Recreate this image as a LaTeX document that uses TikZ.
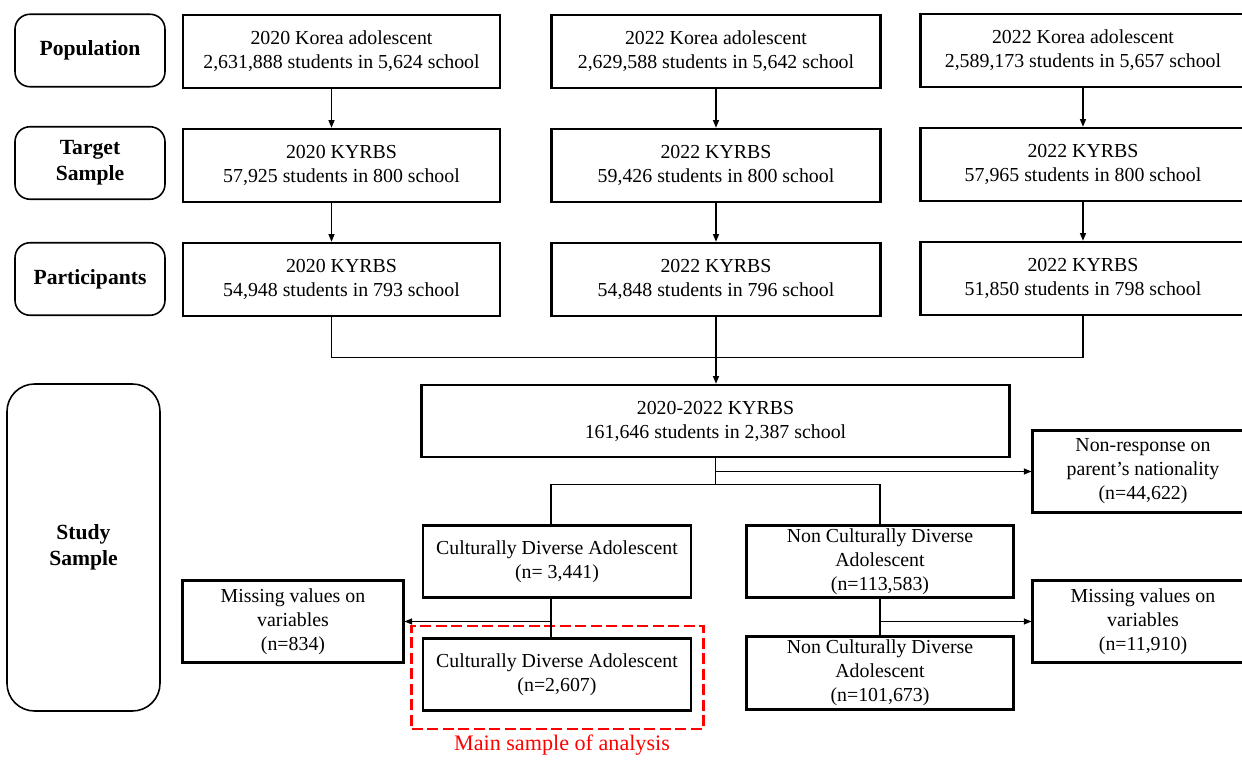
\documentclass[tikz,border=0pt]{standalone}
\usepackage{fontspec}
\setmainfont{Liberation Serif}
\usetikzlibrary{arrows.meta}

\begin{document}
\begin{tikzpicture}[>={Triangle[length=1.5mm,width=1.2mm]},node distance=2.28cm,
  line width=0.6pt,
  year node/.style={draw,line width=1.5pt,align=center,inner sep=1pt,
    minimum height=1.46cm,font=\fontsize{11.3}{13.7}\selectfont},
  flow node/.style={year node,minimum height=1.45cm},
  label node/.style={draw,line width=0.9pt,rounded corners=0.3cm,align=center,
    minimum width=3cm,minimum height=1.45cm,font=\fontsize{12.3}{15}\selectfont\bfseries},
  red box/.style={draw=red,line width=1.7pt,dash pattern=on 2.2mm off 0.9mm,
    minimum width=5.83cm,minimum height=2.06cm}]
  \useasboundingbox (0,0) rectangle (24.84,-15.22);
  \clip (0,0) rectangle (24.84,-15.22);
  % row labels
  \node[label node] (lpop) at (1.8,-1.01) {Population};
  \node[label node] (ltgt) at (1.8,-3.26) {Target\\Sample};
  \node[label node] (lpar) at (1.8,-5.58) {Participants};
  \node[label node,minimum width=3.06cm,minimum height=6.54cm,rounded corners=0.55cm]
    (lstudy) at (1.67,-10.95) {Study\\Sample};
  % survey years
  \node[year node,minimum width=6.34cm] (pop20) at (6.83,-1.03)
    {2020 Korea adolescent\\2,631,888 students in 5,624 school};
  \node[year node,minimum width=6.34cm] (tgt20) [below of=pop20]
    {2020 KYRBS\\57,925 students in 800 school};
  \node[year node,minimum width=6.34cm] (par20) [below of=tgt20]
    {2020 KYRBS\\54,948 students in 793 school};
  \node[year node,minimum width=6.57cm] (pop22a) at (14.32,-1.03)
    {2022 Korea adolescent\\2,629,588 students in 5,642 school};
  \node[year node,minimum width=6.57cm] (tgt22a) [below of=pop22a]
    {2022 KYRBS\\59,426 students in 800 school};
  \node[year node,minimum width=6.57cm] (par22a) [below of=tgt22a]
    {2022 KYRBS\\54,848 students in 796 school};
  \node[year node,minimum width=6.5cm] (pop22b) at (21.66,-1.01)
    {2022 Korea adolescent\\2,589,173 students in 5,657 school};
  \node[year node,minimum width=6.5cm] (tgt22b) [below of=pop22b]
    {2022 KYRBS\\57,965 students in 800 school};
  \node[year node,minimum width=6.5cm] (par22b) [below of=tgt22b]
    {2022 KYRBS\\51,850 students in 798 school};
  % study sample
  \node[flow node,minimum width=11.76cm,minimum height=1.44cm] (all) at (14.31,-8.42)
    {2020-2022 KYRBS\\161,646 students in 2,387 school};
  \node[flow node,minimum width=4.41cm,minimum height=1.65cm] (nr) at (22.86,-9.43)
    {Non-response on\\parent's nationality\\(n=44,622)};
  \node[flow node,minimum width=5.36cm] (cda) at (11.14,-11.23)
    {Culturally Diverse Adolescent\\(n= 3,441)};
  \node[flow node,minimum width=5.34cm] (ncda) at (17.6,-11.23)
    {Non Culturally Diverse\\Adolescent\\(n=113,583)};
  \node[red box] (mainbox) at (11.15,-13.55) {};
  \node[flow node,minimum width=5.36cm] (cda2) at (11.14,-13.49)
    {Culturally Diverse Adolescent\\(n=2,607)};
  \node[flow node,minimum width=5.34cm] (ncda2) at (17.6,-13.46)
    {Non Culturally Diverse\\Adolescent\\(n=101,673)};
  \node[flow node,minimum width=4.41cm,minimum height=1.64cm] (miss1) at (5.86,-12.43)
    {Missing values on\\variables\\(n=834)};
  \node[flow node,minimum width=4.41cm,minimum height=1.64cm] (miss2) at (22.86,-12.43)
    {Missing values on\\variables\\(n=11,910)};
  \node[text=red,font=\fontsize{12.6}{15}\selectfont] (mainlab) at (11.24,-14.9)
    {Main sample of analysis};
  % connectors
  \draw[->] ([xshift=-2mm]pop20.south) -- ([xshift=-2mm]tgt20.north);
  \draw[->] ([xshift=-2mm]tgt20.south) -- ([xshift=-2mm]par20.north);
  \draw[->] (pop22a.south) -- (tgt22a.north);
  \draw[->] (tgt22a.south) -- (par22a.north);
  \draw[->] (pop22b.south) -- (tgt22b.north);
  \draw[->] (tgt22b.south) -- (par22b.north);
  \draw ([xshift=-2mm]par20.south) -- ++(0,-0.8) -| (par22b.south);
  \draw[->] (par22a.south) -- (par22a.south |- all.north);
  \draw (all.south) -- ++(0,-0.52) coordinate (split);
  \draw[->] (all.south |- nr.west) -- (nr.west);
  \draw ([xshift=-1.2mm]cda.north) |- (split) -| (ncda.north);
  \draw ([xshift=-1.2mm]cda.south) -- ([xshift=-1.2mm]cda2.north);
  \draw[->] ([xshift=-1.2mm]cda.south |- miss1.east) -- (miss1.east);
  \draw (ncda.south) -- (ncda2.north);
  \draw[->] (ncda.south |- miss2.west) -- (miss2.west);
\end{tikzpicture}
\end{document}
